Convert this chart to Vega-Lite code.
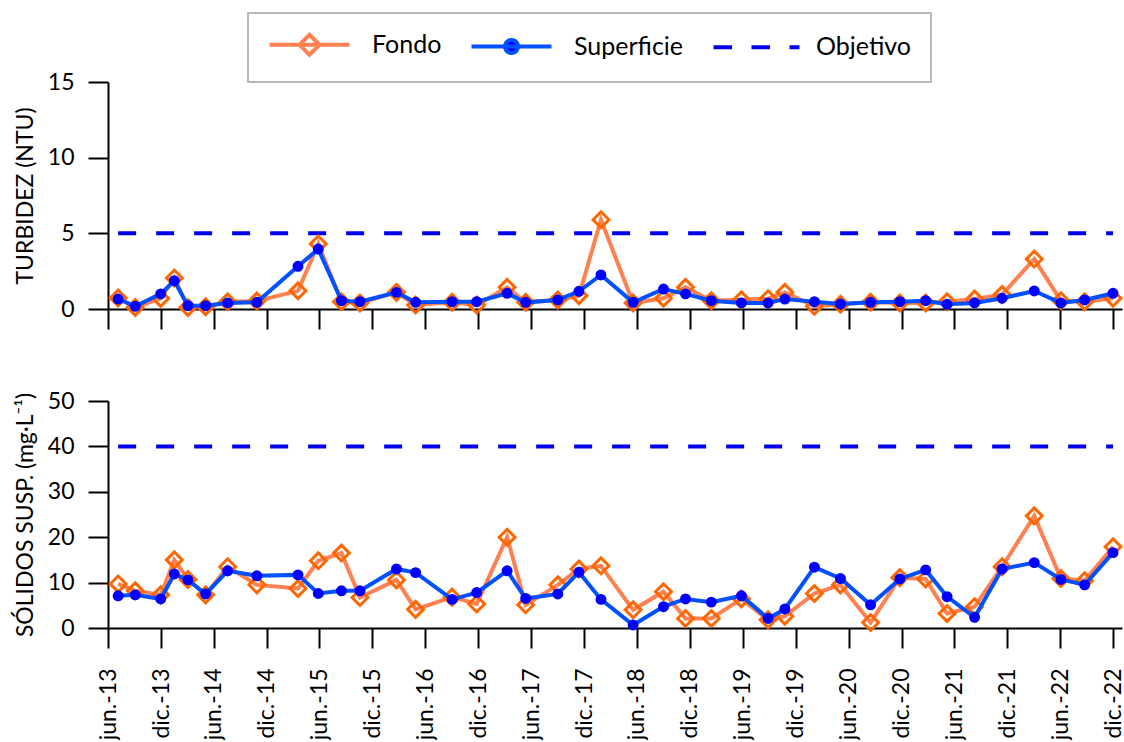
{
 "$schema": "https://vega.github.io/schema/vega-lite/v6.json",
 "background": "white",
 "padding": {"left": 14, "top": 12, "right": 2, "bottom": 0},
 "config": {
  "font": "Lato",
  "view": {"stroke": null},
  "axis": {"domainColor": "black", "domainWidth": 2, "tickColor": "black", "tickWidth": 2, "tickSize": 20, "labelFont": "Lato", "labelFontSize": 23, "labelColor": "black", "labelPadding": 14, "titleFont": "Lato", "titleFontSize": 23, "titleFontWeight": "normal", "titleColor": "black", "titlePadding": 10, "grid": false}
 },
 "datasets": {
  "d": [
   {"fecha": "2013-07-06", "serie": "Fondo", "turbidez": 0.73, "solidos": 9.7},
   {"fecha": "2013-09-03", "serie": "Fondo", "turbidez": 0.1, "solidos": 8.2},
   {"fecha": "2013-11-30", "serie": "Fondo", "turbidez": 0.7, "solidos": 7.3},
   {"fecha": "2014-01-16", "serie": "Fondo", "turbidez": 2.05, "solidos": 15.0},
   {"fecha": "2014-03-04", "serie": "Fondo", "turbidez": 0.1, "solidos": 10.7},
   {"fecha": "2014-05-04", "serie": "Fondo", "turbidez": 0.15, "solidos": 7.3},
   {"fecha": "2014-07-19", "serie": "Fondo", "turbidez": 0.48, "solidos": 13.5},
   {"fecha": "2014-10-28", "serie": "Fondo", "turbidez": 0.53, "solidos": 9.5},
   {"fecha": "2015-03-19", "serie": "Fondo", "turbidez": 1.2, "solidos": 8.7},
   {"fecha": "2015-05-28", "serie": "Fondo", "turbidez": 4.3, "solidos": 14.8},
   {"fecha": "2015-08-16", "serie": "Fondo", "turbidez": 0.48, "solidos": 16.5},
   {"fecha": "2015-10-19", "serie": "Fondo", "turbidez": 0.4, "solidos": 6.7},
   {"fecha": "2016-02-22", "serie": "Fondo", "turbidez": 1.1, "solidos": 10.6},
   {"fecha": "2016-04-28", "serie": "Fondo", "turbidez": 0.26, "solidos": 4.1},
   {"fecha": "2016-09-01", "serie": "Fondo", "turbidez": 0.44, "solidos": 6.8},
   {"fecha": "2016-11-25", "serie": "Fondo", "turbidez": 0.26, "solidos": 5.3},
   {"fecha": "2017-03-10", "serie": "Fondo", "turbidez": 1.43, "solidos": 20.0},
   {"fecha": "2017-05-13", "serie": "Fondo", "turbidez": 0.44, "solidos": 5.1},
   {"fecha": "2017-09-01", "serie": "Fondo", "turbidez": 0.6, "solidos": 9.5},
   {"fecha": "2017-11-13", "serie": "Fondo", "turbidez": 0.88, "solidos": 13.0},
   {"fecha": "2018-01-28", "serie": "Fondo", "turbidez": 5.9, "solidos": 13.7},
   {"fecha": "2018-05-19", "serie": "Fondo", "turbidez": 0.4, "solidos": 4.0},
   {"fecha": "2018-09-01", "serie": "Fondo", "turbidez": 0.71, "solidos": 8.0},
   {"fecha": "2018-11-16", "serie": "Fondo", "turbidez": 1.43, "solidos": 2.1},
   {"fecha": "2019-02-13", "serie": "Fondo", "turbidez": 0.55, "solidos": 2.1},
   {"fecha": "2019-05-28", "serie": "Fondo", "turbidez": 0.61, "solidos": 6.4},
   {"fecha": "2019-08-28", "serie": "Fondo", "turbidez": 0.68, "solidos": 1.8},
   {"fecha": "2019-10-25", "serie": "Fondo", "turbidez": 1.1, "solidos": 2.6},
   {"fecha": "2020-02-04", "serie": "Fondo", "turbidez": 0.18, "solidos": 7.6},
   {"fecha": "2020-05-04", "serie": "Fondo", "turbidez": 0.31, "solidos": 9.5},
   {"fecha": "2020-08-16", "serie": "Fondo", "turbidez": 0.44, "solidos": 1.2},
   {"fecha": "2020-11-25", "serie": "Fondo", "turbidez": 0.4, "solidos": 11.1},
   {"fecha": "2021-02-22", "serie": "Fondo", "turbidez": 0.4, "solidos": 10.8},
   {"fecha": "2021-05-07", "serie": "Fondo", "turbidez": 0.48, "solidos": 3.2},
   {"fecha": "2021-08-10", "serie": "Fondo", "turbidez": 0.66, "solidos": 4.7},
   {"fecha": "2021-11-13", "serie": "Fondo", "turbidez": 0.95, "solidos": 13.5},
   {"fecha": "2022-03-04", "serie": "Fondo", "turbidez": 3.3, "solidos": 24.7},
   {"fecha": "2022-06-04", "serie": "Fondo", "turbidez": 0.55, "solidos": 10.9},
   {"fecha": "2022-08-25", "serie": "Fondo", "turbidez": 0.48, "solidos": 10.4},
   {"fecha": "2022-12-01", "serie": "Fondo", "turbidez": 0.71, "solidos": 17.9},
   {"fecha": "2013-07-06", "serie": "Superficie", "turbidez": 0.66, "solidos": 7.1},
   {"fecha": "2013-09-03", "serie": "Superficie", "turbidez": 0.18, "solidos": 7.3},
   {"fecha": "2013-11-30", "serie": "Superficie", "turbidez": 1.0, "solidos": 6.4},
   {"fecha": "2014-01-16", "serie": "Superficie", "turbidez": 1.87, "solidos": 11.9},
   {"fecha": "2014-03-04", "serie": "Superficie", "turbidez": 0.22, "solidos": 10.6},
   {"fecha": "2014-05-04", "serie": "Superficie", "turbidez": 0.22, "solidos": 7.5},
   {"fecha": "2014-07-19", "serie": "Superficie", "turbidez": 0.4, "solidos": 12.6},
   {"fecha": "2014-10-28", "serie": "Superficie", "turbidez": 0.44, "solidos": 11.5},
   {"fecha": "2015-03-19", "serie": "Superficie", "turbidez": 2.82, "solidos": 11.7},
   {"fecha": "2015-05-28", "serie": "Superficie", "turbidez": 3.96, "solidos": 7.6},
   {"fecha": "2015-08-16", "serie": "Superficie", "turbidez": 0.55, "solidos": 8.2},
   {"fecha": "2015-10-19", "serie": "Superficie", "turbidez": 0.48, "solidos": 8.2},
   {"fecha": "2016-02-22", "serie": "Superficie", "turbidez": 1.1, "solidos": 13.0},
   {"fecha": "2016-04-28", "serie": "Superficie", "turbidez": 0.44, "solidos": 12.2},
   {"fecha": "2016-09-01", "serie": "Superficie", "turbidez": 0.48, "solidos": 6.3},
   {"fecha": "2016-11-25", "serie": "Superficie", "turbidez": 0.48, "solidos": 7.8},
   {"fecha": "2017-03-10", "serie": "Superficie", "turbidez": 1.04, "solidos": 12.6},
   {"fecha": "2017-05-13", "serie": "Superficie", "turbidez": 0.44, "solidos": 6.5},
   {"fecha": "2017-09-01", "serie": "Superficie", "turbidez": 0.6, "solidos": 7.5},
   {"fecha": "2017-11-13", "serie": "Superficie", "turbidez": 1.17, "solidos": 12.3},
   {"fecha": "2018-01-28", "serie": "Superficie", "turbidez": 2.25, "solidos": 6.3},
   {"fecha": "2018-05-19", "serie": "Superficie", "turbidez": 0.44, "solidos": 0.66},
   {"fecha": "2018-09-01", "serie": "Superficie", "turbidez": 1.32, "solidos": 4.7},
   {"fecha": "2018-11-16", "serie": "Superficie", "turbidez": 1.0, "solidos": 6.4},
   {"fecha": "2019-02-13", "serie": "Superficie", "turbidez": 0.55, "solidos": 5.7},
   {"fecha": "2019-05-28", "serie": "Superficie", "turbidez": 0.4, "solidos": 7.1},
   {"fecha": "2019-08-28", "serie": "Superficie", "turbidez": 0.4, "solidos": 2.1},
   {"fecha": "2019-10-25", "serie": "Superficie", "turbidez": 0.66, "solidos": 4.2},
   {"fecha": "2020-02-04", "serie": "Superficie", "turbidez": 0.48, "solidos": 13.4},
   {"fecha": "2020-05-04", "serie": "Superficie", "turbidez": 0.33, "solidos": 10.9},
   {"fecha": "2020-08-16", "serie": "Superficie", "turbidez": 0.44, "solidos": 5.1},
   {"fecha": "2020-11-25", "serie": "Superficie", "turbidez": 0.48, "solidos": 10.8},
   {"fecha": "2021-02-22", "serie": "Superficie", "turbidez": 0.55, "solidos": 12.8},
   {"fecha": "2021-05-07", "serie": "Superficie", "turbidez": 0.31, "solidos": 6.9},
   {"fecha": "2021-08-10", "serie": "Superficie", "turbidez": 0.4, "solidos": 2.35},
   {"fecha": "2021-11-13", "serie": "Superficie", "turbidez": 0.71, "solidos": 13.0},
   {"fecha": "2022-03-04", "serie": "Superficie", "turbidez": 1.19, "solidos": 14.4},
   {"fecha": "2022-06-04", "serie": "Superficie", "turbidez": 0.4, "solidos": 10.7},
   {"fecha": "2022-08-25", "serie": "Superficie", "turbidez": 0.6, "solidos": 9.5},
   {"fecha": "2022-12-01", "serie": "Superficie", "turbidez": 1.04, "solidos": 16.6},
   {"fecha": "2013-07-06", "serie": "Objetivo", "turbidez": 5, "solidos": 40},
   {"fecha": "2022-12-01", "serie": "Objetivo", "turbidez": 5, "solidos": 40}
  ]
 },
 "data": {"name": "d"},
 "spacing": 60,
 "resolve": {"scale": {"y": "independent"}},
 "vconcat": [
  {
   "width": 1014,
   "height": 227,
   "encoding": {
    "x": {"field": "fecha", "type": "temporal",
     "scale": {"domain": [{"year": 2013, "month": 6, "date": 1}, {"year": 2023, "month": 1, "date": 1}]},
     "axis": {"title": null, "labels": false, "values": [{"year": 2013, "month": 6, "date": 1}, {"year": 2013, "month": 12, "date": 1}, {"year": 2014, "month": 6, "date": 1}, {"year": 2014, "month": 12, "date": 1}, {"year": 2015, "month": 6, "date": 1}, {"year": 2015, "month": 12, "date": 1}, {"year": 2016, "month": 6, "date": 1}, {"year": 2016, "month": 12, "date": 1}, {"year": 2017, "month": 6, "date": 1}, {"year": 2017, "month": 12, "date": 1}, {"year": 2018, "month": 6, "date": 1}, {"year": 2018, "month": 12, "date": 1}, {"year": 2019, "month": 6, "date": 1}, {"year": 2019, "month": 12, "date": 1}, {"year": 2020, "month": 6, "date": 1}, {"year": 2020, "month": 12, "date": 1}, {"year": 2021, "month": 6, "date": 1}, {"year": 2021, "month": 12, "date": 1}, {"year": 2022, "month": 6, "date": 1}, {"year": 2022, "month": 12, "date": 1}]}},
    "y": {"field": "turbidez", "type": "quantitative", "scale": {"domain": [0, 15]}, "axis": {"values": [0, 5, 10, 15], "title": "TURBIDEZ (NTU)"}},
    "stroke": {"field": "serie", "type": "nominal",
     "scale": {"domain": ["Fondo", "Superficie", "Objetivo"], "range": ["#FF8050", "#0050FF", "#0000F0"]},
     "legend": {"title": null, "orient": "none", "direction": "horizontal", "legendX": 140, "legendY": -69,
      "symbolSize": 400, "symbolStrokeWidth": 4, "labelFont": "Lato", "labelFontSize": 25, "labelColor": "black",
      "labelOffset": 80, "columnPadding": 21, "padding": 19, "strokeColor": "#B8B8B8", "fillColor": "white",
      "encode": {
       "legend": {"update": {"strokeWidth": {"value": 2}}},
       "symbols": {"update": {
        "shape": {"signal": "datum.value === 'Fondo' ? 'M-1,0H7M3,-1L4,0L3,1L2,0Z' : (datum.value === 'Superficie' ? 'M-1,0H7M3.65,0A0.65,0.65,0,1,1,2.35,0A0.65,0.65,0,1,1,3.65,0' : 'M-1,0H7.6')"},
        "fill": {"signal": "datum.value === 'Superficie' ? '#0000FF' : 'transparent'"},
        "strokeDash": {"signal": "datum.value === 'Objetivo' ? [18.5, 19.5] : [1, 0]"}
       }}
      }}
    }
   },
   "layer": [
    {"transform": [{"filter": "datum.serie === 'Objetivo'"}], "mark": {"type": "line", "strokeWidth": 4, "strokeDash": [18, 20]}},
    {"transform": [{"filter": "datum.serie === 'Fondo'"}], "mark": {"type": "line", "strokeWidth": 4}},
    {"transform": [{"filter": "datum.serie === 'Fondo'"}], "mark": {"type": "point", "shape": "diamond", "filled": false, "strokeWidth": 3, "size": 250, "opacity": 1}, "encoding": {"stroke": {"value": "#FF6600"}}},
    {"transform": [{"filter": "datum.serie === 'Superficie'"}], "mark": {"type": "line", "strokeWidth": 4}},
    {"transform": [{"filter": "datum.serie === 'Superficie'"}], "mark": {"type": "circle", "size": 80, "opacity": 1, "fill": "#0000FF"}, "encoding": {"stroke": {"value": "#0000FF"}}}
   ]
  },
  {
   "width": 1014,
   "height": 227,
   "encoding": {
    "x": {"field": "fecha", "type": "temporal",
     "scale": {"domain": [{"year": 2013, "month": 6, "date": 1}, {"year": 2023, "month": 1, "date": 1}]},
     "axis": {"title": null, "labelAngle": 270, "labelAlign": "right", "labelBaseline": "middle", "labelPadding": 20, "labelOverlap": false, "labelFlush": false,
      "labelExpr": "(month(datum.value) == 5 ? 'jun.-' : 'dic.-') + timeFormat(datum.value, '%y')",
      "values": [{"year": 2013, "month": 6, "date": 1}, {"year": 2013, "month": 12, "date": 1}, {"year": 2014, "month": 6, "date": 1}, {"year": 2014, "month": 12, "date": 1}, {"year": 2015, "month": 6, "date": 1}, {"year": 2015, "month": 12, "date": 1}, {"year": 2016, "month": 6, "date": 1}, {"year": 2016, "month": 12, "date": 1}, {"year": 2017, "month": 6, "date": 1}, {"year": 2017, "month": 12, "date": 1}, {"year": 2018, "month": 6, "date": 1}, {"year": 2018, "month": 12, "date": 1}, {"year": 2019, "month": 6, "date": 1}, {"year": 2019, "month": 12, "date": 1}, {"year": 2020, "month": 6, "date": 1}, {"year": 2020, "month": 12, "date": 1}, {"year": 2021, "month": 6, "date": 1}, {"year": 2021, "month": 12, "date": 1}, {"year": 2022, "month": 6, "date": 1}, {"year": 2022, "month": 12, "date": 1}]}},
    "y": {"field": "solidos", "type": "quantitative", "scale": {"domain": [0, 50]}, "axis": {"values": [0, 10, 20, 30, 40, 50], "title": "SÓLIDOS SUSP. (mg·L⁻¹)"}},
    "stroke": {"field": "serie", "type": "nominal",
     "scale": {"domain": ["Fondo", "Superficie", "Objetivo"], "range": ["#FF8050", "#0050FF", "#0000F0"]}}
   },
   "layer": [
    {"transform": [{"filter": "datum.serie === 'Objetivo'"}], "mark": {"type": "line", "strokeWidth": 4, "strokeDash": [18, 20]}},
    {"transform": [{"filter": "datum.serie === 'Fondo'"}], "mark": {"type": "line", "strokeWidth": 4}},
    {"transform": [{"filter": "datum.serie === 'Fondo'"}], "mark": {"type": "point", "shape": "diamond", "filled": false, "strokeWidth": 3, "size": 250, "opacity": 1}, "encoding": {"stroke": {"value": "#FF6600"}}},
    {"transform": [{"filter": "datum.serie === 'Superficie'"}], "mark": {"type": "line", "strokeWidth": 4}},
    {"transform": [{"filter": "datum.serie === 'Superficie'"}], "mark": {"type": "circle", "size": 80, "opacity": 1, "fill": "#0000FF"}, "encoding": {"stroke": {"value": "#0000FF"}}}
   ]
  }
 ]
}
